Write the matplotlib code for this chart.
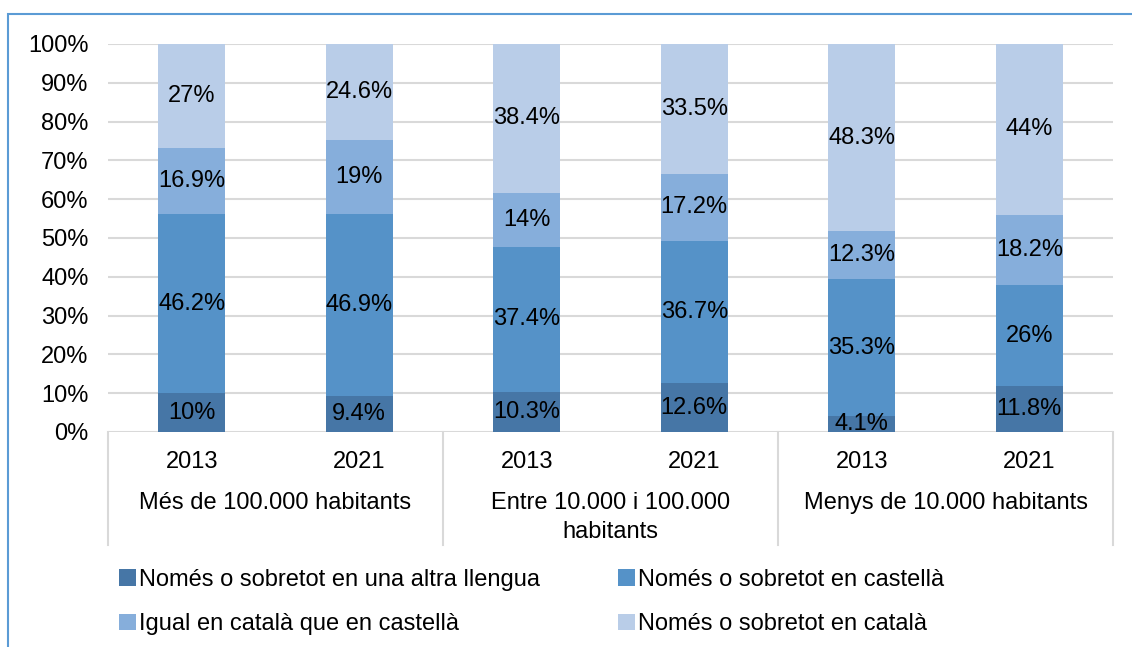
import matplotlib.pyplot as plt
import numpy as np
from matplotlib.patches import Rectangle
import matplotlib.transforms as mtransforms

plt.rcParams['font.family'] = ['Liberation Sans', 'DejaVu Sans']

# data
groups = ['Més de 100.000 habitants', 'Entre 10.000 i 100.000\nhabitants', 'Menys de 10.000 habitants']
years = ['2013', '2021', '2013', '2021', '2013', '2021']
series = ['Només o sobretot en una altra llengua', 'Només o sobretot en castellà',
          'Igual en català que en castellà', 'Només o sobretot en català']
altra = [10, 9.4, 10.3, 12.6, 4.1, 11.8]
castella = [46.2, 46.9, 37.4, 36.7, 35.3, 26]
igual = [16.9, 19, 14, 17.2, 12.3, 18.2]
catala = [27, 24.6, 38.4, 33.5, 48.3, 44]
colors = ['#4676A6', '#5592C8', '#86AEDB', '#B9CDE8']

FS = 17
W, H = 1132, 647
fig = plt.figure(figsize=(W / 100, H / 100), dpi=100)
ax = fig.add_axes([108 / W, (H - 432) / H, (1113 - 108) / W, (432 - 44) / H])

x = np.arange(len(years))
bottom = np.zeros(len(years))
handles = []
for vals, col, name in zip([altra, castella, igual, catala], colors, series):
    vals = np.array(vals, dtype=float)
    b = ax.bar(x, vals, 0.4, bottom=bottom, color=col, label=name, zorder=2)
    handles.append(b)
    for xi, v, bo in zip(x, vals, bottom):
        ax.text(xi, bo + v / 2, f'{v:g}%', ha='center', va='center', fontsize=FS,
                color='black', zorder=3, clip_on=False)
    bottom += vals

ax.set_xlim(-0.5, 5.5)
ax.set_ylim(0, 100)
ax.set_yticks(np.arange(0, 101, 10))
ax.set_yticklabels([f'{v}%' for v in range(0, 101, 10)], fontsize=FS)
ax.tick_params(axis='y', length=0, pad=14)
ax.set_xticks([])
ax.yaxis.grid(True, color='#D9D9D9', lw=1.5, zorder=0)
for s in ax.spines.values():
    s.set_visible(False)

# category axis below the plot
trans = mtransforms.blended_transform_factory(ax.transData, fig.transFigure)
y0 = (H - 432) / H
y1 = (H - 545) / H
for xs in [-0.5, 1.5, 3.5, 5.5]:
    ax.plot([xs, xs], [y0, y1], transform=trans, color='#D9D9D9', lw=1.5, clip_on=False)
for xi, yr in zip(x, years):
    ax.text(xi, (H - 462) / H, yr, transform=trans, ha='center', va='center', fontsize=FS)
for gi, g in enumerate(groups):
    ax.text(2 * gi + 0.5, (H - 492) / H, g, transform=trans, ha='center', va='top',
            fontsize=FS, linespacing=1.4)

# legend, filled row by row
order = [0, 2, 1, 3]
fig.legend(handles=[handles[i] for i in order], labels=[series[i] for i in order],
           loc='upper left', bbox_to_anchor=(119 / W, (H - 569) / H),
           ncol=2, frameon=False, fontsize=FS, handlelength=0.7, handleheight=0.7,
           handletextpad=0.15, columnspacing=3.3, labelspacing=0.95, borderaxespad=0,
           borderpad=0)

# outer border
fig.patches.append(Rectangle((8 / W, -0.1), 1.2, (H - 14) / H + 0.1, transform=fig.transFigure,
                             fill=False, edgecolor='#5B9BD5', lw=1.5))

fig.savefig('out.png', dpi=100)
